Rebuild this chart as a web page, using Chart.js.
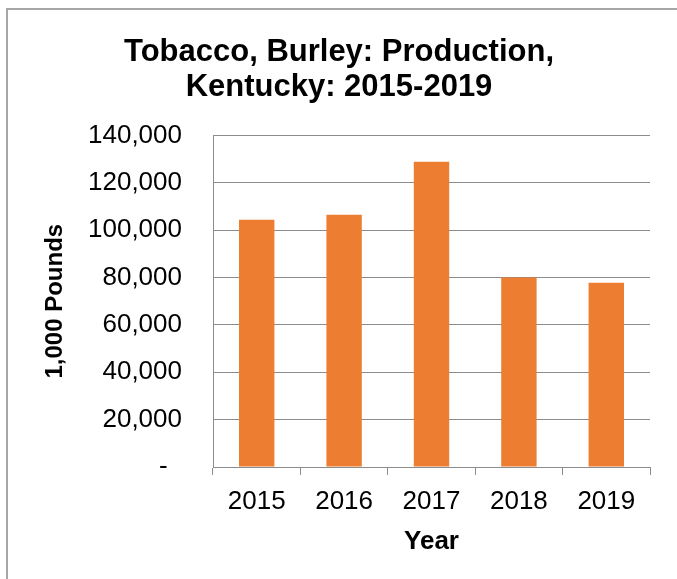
<!DOCTYPE html>
<html>
<head>
<meta charset="utf-8">
<script src="https://cdn.jsdelivr.net/npm/chart.js@4.4.1/dist/chart.umd.min.js"></script>
<style>
  html, body { margin: 0; padding: 0; background: #fff; overflow: hidden; }
  #frame { position: absolute; left: 6px; top: 8px; width: 720px; height: 620px; border: 2px solid #a6a6a6; box-sizing: border-box; }
  #wrap { position: absolute; left: 0; top: 0; width: 677px; height: 579px; }
</style>
</head>
<body>
<div id="frame"></div>
<div id="wrap"><canvas id="chart" width="677" height="579"></canvas></div>
<script>
// data
const years = ["2015", "2016", "2017", "2018", "2019"];
const production = [104400, 106500, 128900, 80000, 77800];
const yTicks = [0, 20000, 40000, 60000, 80000, 100000, 120000, 140000];

const chartTitle = ["Tobacco, Burley: Production,", "Kentucky: 2015-2019"];
const xTitle = "Year";
const yTitle = "1,000 Pounds";

const FONT = "'Liberation Sans', Arial, sans-serif";
const GRID = "#8c8c8c";

new Chart(document.getElementById("chart"), {
    type: "bar",
    data: {
        labels: years,
        datasets: [{
            data: production,
            backgroundColor: "#ED7D31",
            borderWidth: 0,
            barPercentage: 0.405,
            categoryPercentage: 1
        }]
    },
    options: {
        responsive: false,
        animation: false,
        layout: { padding: { left: 28, right: 27, top: 35, bottom: 22 } },
        plugins: {
            legend: { display: false },
            tooltip: { enabled: false },
            title: {
                display: true,
                text: chartTitle,
                color: "#000",
                font: { family: FONT, size: 31, weight: "bold", lineHeight: 1.12 },
                padding: { top: 0, bottom: 31 }
            }
        },
        scales: {
            x: {
                grid: { drawOnChartArea: false, drawTicks: true, tickLength: 8, color: GRID, offset: true },
                border: { color: GRID, width: 1 },
                ticks: { color: "#000", font: { family: FONT, size: 26 }, padding: 11, maxRotation: 0 },
                title: { display: true, text: xTitle, color: "#000", font: { family: FONT, size: 26, weight: "bold" }, padding: 0 },
                afterFit: scale => { scale.height = 90; }
            },
            y: {
                min: 0,
                max: 140000,
                afterBuildTicks: scale => { scale.ticks = yTicks.map(v => ({ value: v })); },
                grid: { drawTicks: false, color: GRID },
                border: { color: GRID, width: 1 },
                ticks: {
                    color: "#000",
                    font: { family: FONT, size: 26 },
                    padding: 31,
                    callback: v => v === 0 ? "-  " : v.toLocaleString("en-US")
                },
                title: { display: true, text: yTitle, color: "#000", font: { family: FONT, size: 24, weight: "bold" }, padding: { top: 13, bottom: 0 } },
                afterFit: scale => { scale.width = 213 - 28; }
            }
        }
    }
});
</script>
</body>
</html>
